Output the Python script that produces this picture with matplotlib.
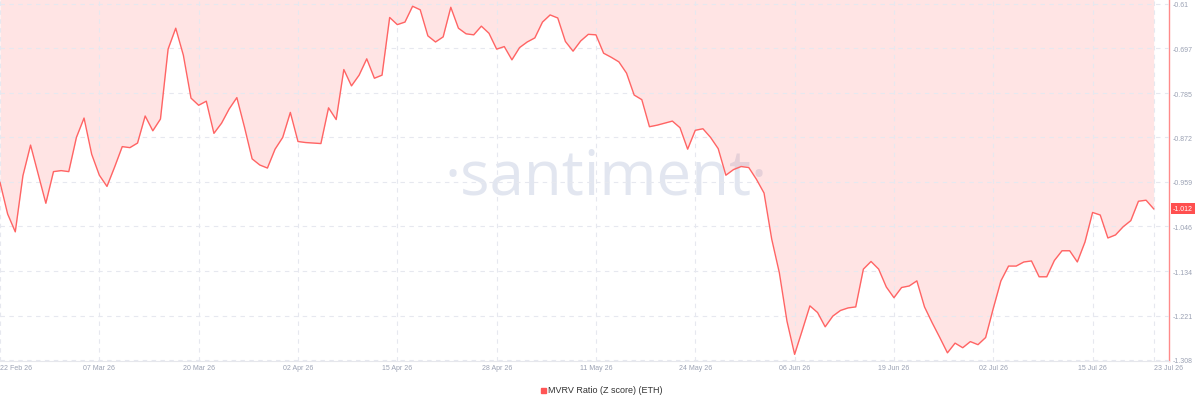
import numpy as np
import pandas as pd
import matplotlib
matplotlib.use("Agg")
import matplotlib.pyplot as plt
from matplotlib.patches import Rectangle

plt.rcParams["font.family"] = ["Liberation Sans", "DejaVu Sans"]

start_date = "2026-02-22"
mvrv = [
    -0.960, -1.022, -1.057, -0.947, -0.887, -0.944, -1.001, -0.939, -0.937, -0.939,
    -0.872, -0.834, -0.905, -0.946, -0.968, -0.930, -0.890, -0.892, -0.883, -0.830,
    -0.859, -0.836, -0.699, -0.658, -0.711, -0.795, -0.809, -0.801, -0.864, -0.844,
    -0.816, -0.794, -0.852, -0.914, -0.926, -0.932, -0.895, -0.872, -0.823, -0.880,
    -0.882, -0.883, -0.884, -0.814, -0.837, -0.739, -0.771, -0.750, -0.718, -0.756,
    -0.750, -0.637, -0.651, -0.646, -0.615, -0.622, -0.673, -0.685, -0.675, -0.617,
    -0.658, -0.669, -0.671, -0.654, -0.668, -0.699, -0.694, -0.720, -0.696, -0.685,
    -0.677, -0.646, -0.632, -0.638, -0.684, -0.703, -0.683, -0.670, -0.671, -0.707,
    -0.715, -0.724, -0.746, -0.789, -0.798, -0.851, -0.848, -0.844, -0.840, -0.853,
    -0.895, -0.858, -0.855, -0.872, -0.894, -0.946, -0.935, -0.929, -0.931, -0.954,
    -0.981, -1.071, -1.137, -1.232, -1.297, -1.250, -1.202, -1.215, -1.243, -1.222,
    -1.211, -1.206, -1.204, -1.130, -1.115, -1.130, -1.165, -1.186, -1.166, -1.163,
    -1.153, -1.204, -1.235, -1.264, -1.294, -1.275, -1.284, -1.272, -1.278, -1.264,
    -1.207, -1.153, -1.124, -1.124, -1.116, -1.114, -1.145, -1.145, -1.113, -1.094,
    -1.094, -1.116, -1.077, -1.019, -1.024, -1.069, -1.063, -1.047, -1.035, -0.997,
    -0.995, -1.012,
]
tick_dates = ["2026-02-22", "2026-03-07", "2026-03-20", "2026-04-02", "2026-04-15",
              "2026-04-28", "2026-05-11", "2026-05-24", "2026-06-06", "2026-06-19",
              "2026-07-02", "2026-07-15", "2026-07-23"]
tick_labels = ["22 Feb 26", "07 Mar 26", "20 Mar 26", "02 Apr 26", "15 Apr 26",
               "28 Apr 26", "11 May 26", "24 May 26", "06 Jun 26", "19 Jun 26",
               "02 Jul 26", "15 Jul 26", "23 Jul 26"]
y_ticks = [-0.61, -0.697, -0.785, -0.872, -0.959, -1.046, -1.134, -1.221, -1.308]
y_labels = ["-0.61", "-0.697", "-0.785", "-0.872", "-0.959", "-1.046", "-1.134", "-1.221", "-1.308"]

LINE = "#ff6464"
GRID = "#e6e8ef"
TXT = "#9aa1b3"
W, H = 1200, 406

dates = pd.date_range(start_date, periods=len(mvrv), freq="D")
y_top, y_bot = -0.6008, -1.310

fig = plt.figure(figsize=(W / 100, H / 100), dpi=100)
ax = fig.add_axes([0, 1 - 362 / H, 1169 / W, 362 / H])

# watermark, sits under the fill
ax.text(606 / W, 1 - 195 / H, "·santiment·", transform=fig.transFigure, fontsize=44.5,
        color="#e2e6f0", ha="center", va="baseline", family="Open Sans", zorder=0)

ax.fill_between(dates, mvrv, y_top, color=LINE, alpha=0.17, linewidth=0, zorder=1)
ax.plot(dates, mvrv, color=LINE, linewidth=1.0, zorder=3)

ax.set_ylim(y_bot, y_top)
ax.set_xlim(pd.Timestamp(start_date), pd.Timestamp(start_date) + pd.Timedelta(days=153))

ax.set_xticks(pd.to_datetime(tick_dates))
ax.set_xticklabels(tick_labels, fontsize=5, color=TXT)
ax.get_xticklabels()[0].set_ha("left")
ax.get_xticklabels()[-1].set_ha("left")
ax.tick_params(axis="x", length=0, pad=2.5)

ax.yaxis.tick_right()
ax.set_yticks(y_ticks)
ax.set_yticklabels(y_labels, fontsize=5, color=TXT)
ax.tick_params(axis="y", length=0, pad=3)

ax.grid(True, linestyle=(0, (4, 4)), color=GRID, linewidth=0.8)
ax.set_axisbelow(False)

for side in ["left", "top"]:
    ax.spines[side].set_visible(False)
ax.spines["bottom"].set_color("#e6e7ec")
ax.spines["bottom"].set_linewidth(0.8)
ax.spines["right"].set_color("#ff8a8a")
ax.spines["right"].set_linewidth(1.0)

# last value badge on the right axis
ax.annotate(f"{mvrv[-1]:.3f}", xy=(1.0, mvrv[-1]), xycoords=("axes fraction", "data"),
            xytext=(3, 0), textcoords="offset points", fontsize=5, color="white",
            ha="left", va="center", annotation_clip=False,
            bbox=dict(boxstyle="square,pad=0.3", fc="#ff4f4f", ec="none"))

# legend
fig.patches.append(Rectangle((540.5 / W, 1 - 393.5 / H), 5 / W, 5 / H,
                             transform=fig.transFigure, color="#ff5555"))
fig.text(548 / W, 1 - 391 / H, "MVRV Ratio (Z score) (ETH)", color="#333333", fontsize=6.5,
         ha="left", va="center")

fig.savefig("out.png", dpi=100)
